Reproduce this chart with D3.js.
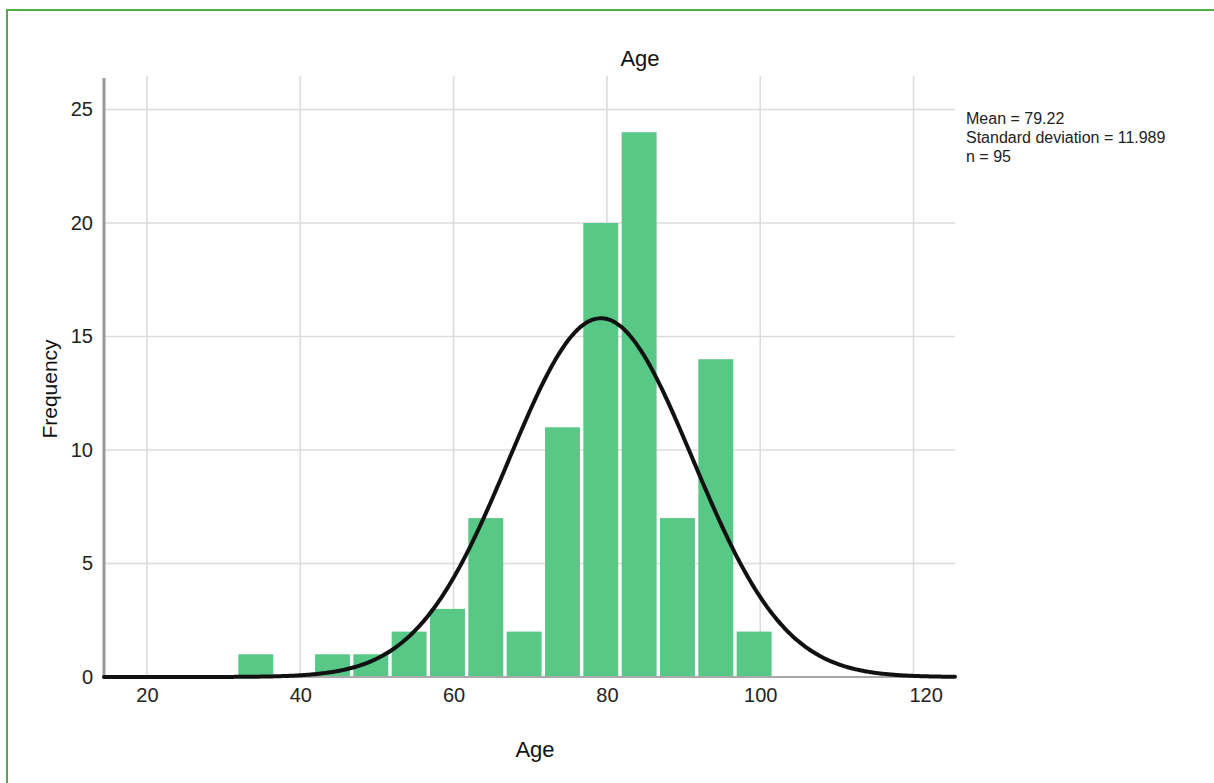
<!DOCTYPE html>
<html>
<head>
<meta charset="utf-8">
<script src="https://cdn.jsdelivr.net/npm/d3@7"></script>
<style>
  body { margin: 0; background: #fff; }
  svg { display: block; font-family: "Liberation Sans", Arial, Helvetica, sans-serif; }
</style>
</head>
<body>
<div id="chart"></div>
<script>
// histogram bins (lower edge, in years) and counts
const binStarts = [31.7, 36.7, 41.7, 46.7, 51.7, 56.7, 61.7, 66.7, 71.7, 76.7, 81.7, 86.7, 91.7, 96.7];
const binWidth = 5;
const counts = [1, 0, 1, 1, 2, 3, 7, 2, 11, 20, 24, 7, 14, 2];

const xTicks = [20, 40, 60, 80, 100, 120];
const yTicks = [0, 5, 10, 15, 20, 25];

const mean = 79.22;
const sd = 11.989;
const n = 95;
const statLines = ["Mean = 79.22", "Standard deviation = 11.989", "n = 95"];

const svgWidth = 1214;
const svgHeight = 783;

const svg = d3.select("#chart")
    .append("svg")
    .attr("width", svgWidth)
    .attr("height", svgHeight);

// green frame (open at right / bottom edge of picture)
svg.append("rect")
    .attr("x", 7).attr("y", 10)
    .attr("width", 1240).attr("height", 800)
    .attr("fill", "none")
    .attr("stroke", "#52ad46")
    .attr("stroke-width", 2);

const x = d3.scaleLinear().domain([14.4, 125.4]).range([104, 955]);
const y = d3.scaleLinear().domain([0, 26.3]).range([677, 80]);

// grid
svg.append("g")
    .selectAll("line")
    .data(xTicks)
    .enter()
    .append("line")
    .attr("x1", d => x(d)).attr("x2", d => x(d))
    .attr("y1", 76).attr("y2", y(0))
    .attr("stroke", "#dcdcdc")
    .attr("stroke-width", 1.6);

svg.append("g")
    .selectAll("line")
    .data(yTicks.filter(d => d > 0))
    .enter()
    .append("line")
    .attr("x1", x.range()[0]).attr("x2", x.range()[1])
    .attr("y1", d => y(d)).attr("y2", d => y(d))
    .attr("stroke", "#dcdcdc")
    .attr("stroke-width", 1.6);

// bars
svg.append("g")
    .selectAll("rect")
    .data(binStarts.map((s, i) => ({ x0: s, x1: s + binWidth, c: counts[i] })).filter(d => d.c > 0))
    .enter()
    .append("rect")
    .attr("x", d => x(d.x0) + 1.7)
    .attr("width", d => x(d.x1) - x(d.x0) - 3.4)
    .attr("y", d => y(d.c))
    .attr("height", d => y(0) - y(d.c))
    .attr("fill", "#57c886");

// axis lines
svg.append("line")
    .attr("x1", x.range()[0]).attr("x2", x.range()[1])
    .attr("y1", y(0)).attr("y2", y(0))
    .attr("stroke", "#a9a9a9")
    .attr("stroke-width", 2);

svg.append("line")
    .attr("x1", x.range()[0]).attr("x2", x.range()[0])
    .attr("y1", 78).attr("y2", y(0))
    .attr("stroke", "#9a9a9a")
    .attr("stroke-width", 3);

// normal curve from the stated mean / sd
const pdf = v => n * binWidth * Math.exp(-0.5 * ((v - mean) / sd) ** 2) / (sd * Math.sqrt(2 * Math.PI));
const curveXs = d3.range(x.domain()[0], x.domain()[1] + 0.01, 0.25);
svg.append("path")
    .datum(curveXs)
    .attr("d", d3.line().x(d => x(d)).y(d => y(pdf(d))).curve(d3.curveBasis))
    .attr("fill", "none")
    .attr("stroke", "#111")
    .attr("stroke-width", 4)
    .attr("stroke-linecap", "round");

// tick labels
const xAxis = svg.append("g")
    .attr("transform", `translate(0, ${y(0)})`)
    .call(d3.axisBottom(x).tickValues(xTicks).tickSize(0).tickPadding(11));
xAxis.select(".domain").remove();
xAxis.selectAll("text")
    .attr("font-size", 20)
    .attr("font-family", "Liberation Sans, Arial, sans-serif")
    .attr("fill", "#222")
    .attr("dx", d => d === 120 ? 12 : 0);

const yAxis = svg.append("g")
    .attr("transform", `translate(${x.range()[0]}, 0)`)
    .call(d3.axisLeft(y).tickValues(yTicks).tickSize(0).tickPadding(11));
yAxis.select(".domain").remove();
yAxis.selectAll("text")
    .attr("font-size", 20)
    .attr("font-family", "Liberation Sans, Arial, sans-serif")
    .attr("fill", "#222");

// titles
svg.append("text")
    .attr("x", 640).attr("y", 66)
    .attr("text-anchor", "middle")
    .attr("font-size", 22)
    .attr("fill", "#111")
    .text("Age");

svg.append("text")
    .attr("x", 535).attr("y", 757)
    .attr("text-anchor", "middle")
    .attr("font-size", 22)
    .attr("fill", "#111")
    .text("Age");

svg.append("text")
    .attr("transform", "translate(57, 389) rotate(-90)")
    .attr("text-anchor", "middle")
    .attr("font-size", 21)
    .attr("fill", "#111")
    .text("Frequency");

// stats box
svg.append("g")
    .selectAll("text")
    .data(statLines)
    .enter()
    .append("text")
    .attr("x", 966)
    .attr("y", (d, i) => 124 + i * 19)
    .attr("font-size", 16)
    .attr("fill", "#222")
    .text(d => d);
</script>
</body>
</html>
